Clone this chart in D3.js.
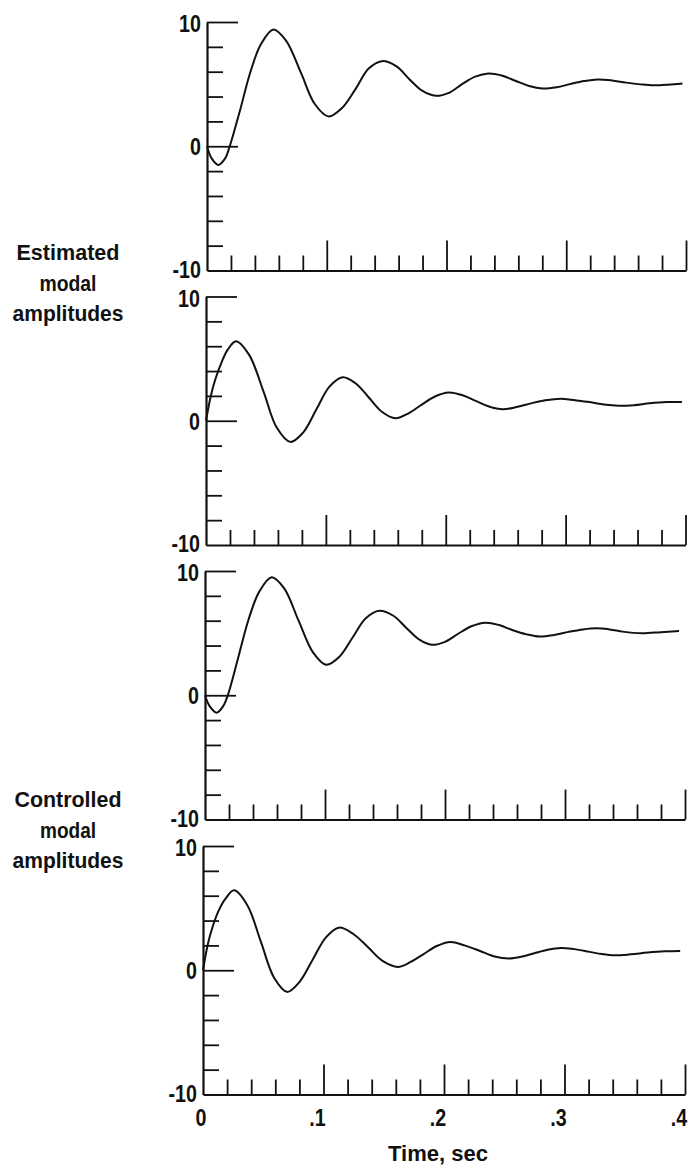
<!DOCTYPE html>
<html><head><meta charset="utf-8">
<script src="https://cdn.jsdelivr.net/npm/d3@7"></script>
<style>html,body{margin:0;padding:0;background:#fff}</style>
</head><body>
<svg id="chart" width="690" height="1168"></svg>
<script>
// ---- data ----
const est1Time = [0,0.004,0.0095,0.015,0.019,0.0276,0.036,0.045,0.0555,0.066,0.0785,0.09,0.1015,0.1125,0.124,0.135,0.146,0.158,0.169,0.18,0.191,0.202,0.213,0.224,0.235,0.246,0.258,0.269,0.280,0.292,0.303,0.315,0.326,0.338,0.350,0.362,0.373,0.385,0.397];
const est1Amp  = [0,-1.0,-1.5,-1.0,0.0,2.9,5.9,8.2,9.4,8.5,5.9,3.4,2.4,3.05,4.6,6.25,6.85,6.45,5.4,4.45,4.06,4.3,5.0,5.6,5.86,5.7,5.25,4.85,4.65,4.75,5.0,5.25,5.38,5.3,5.12,4.98,4.9,4.95,5.05];

const est2Time = [0,0.004,0.008,0.013,0.018,0.025,0.036,0.048,0.059,0.0703,0.081,0.092,0.103,0.114,0.125,0.136,0.147,0.158,0.169,0.18,0.191,0.2025,0.214,0.225,0.236,0.2475,0.259,0.271,0.283,0.296,0.308,0.32,0.332,0.344,0.357,0.37,0.384,0.397];
const est2Amp  = [0,2.0,3.4,4.7,5.7,6.4,5.3,2.35,-0.55,-1.7,-0.95,0.9,2.75,3.5,3.0,1.85,0.7,0.2,0.6,1.3,1.95,2.27,2.05,1.6,1.15,0.93,1.1,1.4,1.65,1.78,1.65,1.5,1.3,1.2,1.25,1.4,1.5,1.5];

const ctl1Time = [0,0.004,0.0097,0.015,0.019,0.0276,0.036,0.045,0.0556,0.066,0.078,0.09,0.101,0.112,0.123,0.134,0.1453,0.157,0.168,0.179,0.189,0.2,0.211,0.222,0.2336,0.245,0.256,0.268,0.279,0.291,0.303,0.315,0.3264,0.337,0.348,0.357,0.365,0.38,0.395];
const ctl1Amp  = [0,-0.9,-1.4,-0.9,0.0,3.0,6.0,8.3,9.5,8.6,6.0,3.45,2.45,3.1,4.65,6.2,6.8,6.4,5.4,4.45,4.06,4.3,4.95,5.55,5.84,5.65,5.25,4.9,4.72,4.85,5.1,5.3,5.39,5.3,5.12,5.02,4.99,5.08,5.18];

const ctl2Time = [0,0.004,0.008,0.013,0.019,0.0258,0.037,0.048,0.059,0.0698,0.08,0.091,0.102,0.1128,0.125,0.137,0.149,0.1617,0.172,0.183,0.194,0.2053,0.217,0.23,0.242,0.254,0.265,0.275,0.286,0.297,0.308,0.32,0.331,0.342,0.355,0.369,0.383,0.396];
const ctl2Amp  = [0,2.1,3.5,4.8,5.8,6.43,5.2,2.3,-0.6,-1.74,-0.95,0.85,2.65,3.43,2.9,1.85,0.75,0.27,0.65,1.3,1.95,2.28,2.0,1.55,1.1,0.94,1.1,1.37,1.65,1.8,1.7,1.5,1.3,1.2,1.28,1.42,1.52,1.55];

const yTickValues = [-8,-6,-4,-2,0,2,4,6,8,10];
const yLongTicks = [0,10];
const yLabelValues = [-10,0,10];
const yLabelText = ["-10","0","10"];
const xTickValues = [0.02,0.04,0.06,0.08,0.1,0.12,0.14,0.16,0.18,0.2,0.22,0.24,0.26,0.28,0.3,0.32,0.34,0.36,0.38,0.4];
const xMajorTicks = [0.1,0.2,0.3,0.4];
const xLabelValues = [0,0.1,0.2,0.3,0.4];
const xLabelText = ["0",".1",".2",".3",".4"];
const xAxisTitle = "Time, sec";
const groupLabels = [["Estimated","modal","amplitudes"],["Controlled","modal","amplitudes"]];

// ---- layout ----
const INK = "#111";
const FONT = "'Liberation Sans', Arial, sans-serif";
const panelH = 248.5;
const panels = [
  {top:22,   x0:207, x1:686, t:est1Time, v:est1Amp},
  {top:296.5,x0:206, x1:685.5, t:est2Time, v:est2Amp},
  {top:571,  x0:205, x1:685, t:ctl1Time, v:ctl1Amp},
  {top:846,  x0:203, x1:685, t:ctl2Time, v:ctl2Amp}
];

const svg = d3.select("#chart");
svg.append("rect").attr("width",690).attr("height",1168).attr("fill","#fff");

function tickLabel(g, x, y, txt, anchor, size, sx) {
  g.append("g").attr("transform", `translate(${x},${y}) scale(${sx},1)`)
    .append("text").attr("x",0).attr("y",0)
    .attr("text-anchor", anchor).attr("dominant-baseline","central")
    .attr("font-family", FONT).attr("font-size", size).attr("font-weight","bold").attr("fill", INK)
    .text(txt);
}

panels.forEach((p, i) => {
  const x = d3.scaleLinear().domain([0,0.4]).range([p.x0, p.x1]);
  const y = d3.scaleLinear().domain([-10,10]).range([p.top + panelH, p.top]);
  const g = svg.append("g");

  // y axis
  const ya = g.append("g").attr("transform", `translate(${p.x0},0)`)
    .call(d3.axisRight(y).tickValues(yTickValues).tickSize(16).tickSizeOuter(0).tickFormat(""));
  ya.selectAll(".tick line").attr("x2", d => yLongTicks.includes(d) ? 31 : 16);

  // x axis (ticks upward)
  const xa = g.append("g").attr("transform", `translate(0,${y(-10)})`)
    .call(d3.axisTop(x).tickValues(xTickValues).tickSize(15).tickSizeOuter(0).tickFormat(""));
  xa.selectAll(".tick line").attr("y2", d => xMajorTicks.some(m => Math.abs(m-d)<1e-9) ? -30 : -15);

  g.selectAll(".domain").attr("stroke", INK).attr("stroke-width", 2.2);
  g.selectAll(".tick line").attr("stroke", INK).attr("stroke-width", 1.8);

  // y labels
  yLabelValues.forEach((v, k) => tickLabel(g, p.x0 - 6, y(v) + (v === -10 ? -1 : (v === 10 ? 2 : 1)), yLabelText[k], "end", 24, 0.82));

  // curve
  const pts = p.t.map((t, k) => [t, p.v[k]]);
  g.append("path").datum(pts)
    .attr("fill","none").attr("stroke", INK).attr("stroke-width", 2)
    .attr("stroke-linejoin","round")
    .attr("d", d3.line().x(d => x(d[0])).y(d => y(d[1])).curve(d3.curveCatmullRom.alpha(0.5)));

  if (i === panels.length - 1) {
    xLabelValues.forEach((v, k) => tickLabel(g, x(v) + (k === 0 ? -2 : -6), y(-10) + 23, xLabelText[k], "middle", 24, 0.82));
    g.append("text").attr("x", 438).attr("y", 1161)
      .attr("text-anchor","middle").attr("font-family", FONT).attr("font-size", 22).attr("font-weight","bold")
      .attr("fill", INK).attr("textLength", 100).attr("lengthAdjust","spacingAndGlyphs")
      .text(xAxisTitle);
  }
});

// side group labels
const groupBaselines = [[260,291,321],[807,838,868]];
const groupWidths = [[103,57,111],[107,56,111]];
groupLabels.forEach((lines, gi) => {
  lines.forEach((s, li) => {
    svg.append("text").attr("x", 68).attr("y", groupBaselines[gi][li])
      .attr("text-anchor","middle").attr("font-family", FONT).attr("font-size", 22).attr("font-weight","bold")
      .attr("fill", INK).attr("textLength", groupWidths[gi][li]).attr("lengthAdjust","spacingAndGlyphs")
      .text(s);
  });
});
</script>
</body></html>
